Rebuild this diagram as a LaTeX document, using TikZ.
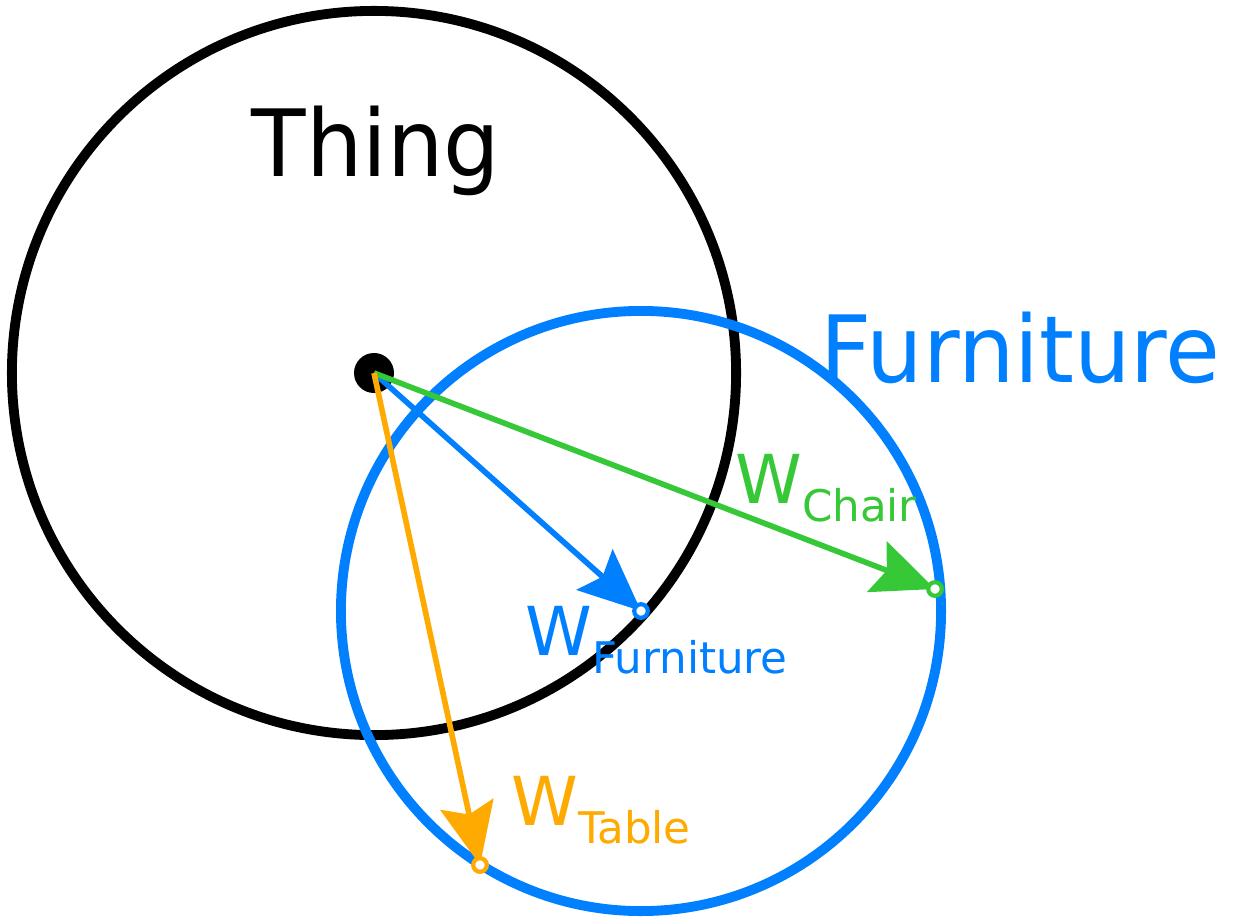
\documentclass[tikz,border=0pt]{standalone}
\usepackage{fontspec}
\setmainfont{DejaVu Sans}
\newfontfamily\bigfont[FakeStretch=0.96]{DejaVu Sans}
\usepackage{xcolor}
\usetikzlibrary{arrows.meta}

\definecolor{furnblue}{RGB}{0,128,255}
\definecolor{chairgreen}{RGB}{55,200,55}
\definecolor{tableorange}{RGB}{255,170,0}

\newcommand{\wlabel}[1]{{\fontsize{48}{48}\selectfont W}\raisebox{-13.5pt}{\fontsize{31}{31}\selectfont #1}}

\begin{document}
\begin{tikzpicture}[
  x=0.025cm, y=-0.025cm,
  set/.style={draw, circle, line width=7pt, inner sep=0pt},
  ring/.style={circle, draw=#1, fill=white, line width=3pt, inner sep=0pt, minimum size=0.34cm},
  vec/.style={line width=4pt, -{Stealth[length=1.55cm, width=1.35cm, inset=0.26cm]}},
  big/.style={font=\bigfont\fontsize{66}{66}\selectfont},
]
  \useasboundingbox (0,0) rectangle (1234,919);

  \node[set, minimum size=18.1cm] (thing) at (374,373) {};
  \node[set, furnblue, minimum size=15cm] (furn) at (641,611) {};
  \node[circle, fill=black, inner sep=0pt, minimum size=1cm] (o) at (374,373) {};

  \coordinate (wf) at (641,611);
  \coordinate (wc) at (935,589);
  \coordinate (wt) at (480,865);

  \draw[vec, furnblue]    (o.center) -- (wf);
  \draw[vec, chairgreen]  (o.center) -- (wc);
  \draw[vec, tableorange] (o.center) -- (wt);

  \node[ring=furnblue]    (wfring) at (wf) {};
  \node[ring=chairgreen]  (wcring) at (wc) {};
  \node[ring=tableorange] (wtring) at (wt) {};

  \node[big, anchor=base] (thinglbl) at (376,177) {Thing};
  \node[big, furnblue, anchor=base west, inner sep=0pt] (furnlbl) at (820,382) {Furniture};

  \node[furnblue, anchor=base west, inner sep=0pt] (wflbl) at (525,655) {\wlabel{Furniture}};
  \node[chairgreen, anchor=base west, inner sep=0pt] (wclbl) at (735,503) {\wlabel{Chair}};
  \node[tableorange, anchor=base west, inner sep=0pt] (wtlbl) at (511,825) {\wlabel{Table}};
\end{tikzpicture}
\end{document}
